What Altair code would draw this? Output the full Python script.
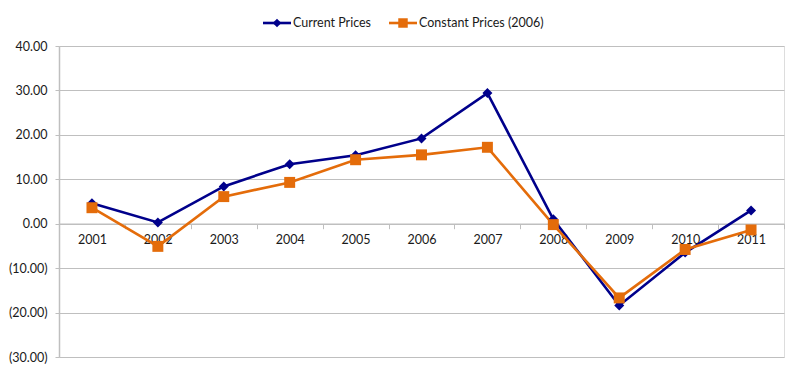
import altair as alt
import pandas as pd

years = ["2001", "2002", "2003", "2004", "2005", "2006", "2007", "2008", "2009", "2010", "2011"]
current = [4.6, 0.3, 8.4, 13.4, 15.4, 19.2, 29.4, 1.0, -18.4, -6.5, 3.0]
constant = [3.6, -5.1, 6.1, 9.3, 14.4, 15.5, 17.2, -0.2, -16.7, -5.8, -1.4]
series = ["Current Prices", "Constant Prices (2006)"]
colors = ["#00008B", "#E46C0A"]
shapes = ["diamond", "square"]
sizes = [100, 120]
y_ticks = [-30, -20, -10, 0, 10, 20, 30, 40]

FONT = "Lato"
W, H = 725, 311

rows = []
for s, vals in zip(series, [current, constant]):
    for yr, v in zip(years, vals):
        rows.append({"year": yr, "value": v, "series": s})
df = pd.DataFrame(rows)

label_expr = ("datum.value < 0 ? '(' + format(-datum.value, '.2f') + ')' "
              ": format(datum.value, '.2f')")

x_enc = alt.X("year:O", sort=years,
              scale=alt.Scale(type="band", paddingInner=0, paddingOuter=0),
              axis=alt.Axis(title=None, orient="bottom", offset=-133.3,
                            domainColor="#BFBFBF", domainWidth=1.5,
                            tickColor="#BFBFBF", tickSize=5, tickBand="extent",
                            labelAngle=0, labelPadding=5, labelFont=FONT,
                            labelFontSize=12.5, labelColor="#1a1a1a", grid=False))
y_enc = alt.Y("value:Q",
              scale=alt.Scale(domain=[-30, 40], nice=False, zero=False),
              axis=alt.Axis(title=None, values=y_ticks, labelExpr=label_expr,
                            domainColor="#BFBFBF", domainWidth=1.5,
                            tickColor="#BFBFBF", tickSize=4, labelPadding=8,
                            labelFont=FONT, labelFontSize=12.5, labelColor="#1a1a1a",
                            grid=True, gridColor="#BFBFBF", gridWidth=1.2))
color_enc = alt.Color("series:N", scale=alt.Scale(domain=series, range=colors), legend=None)

base = alt.Chart(df)
lines = base.mark_line(strokeWidth=2.6).encode(x=x_enc, y=y_enc, color=color_enc,
                                                detail="series:N")
pts = []
for s, c, sh, sz in zip(series, colors, shapes, sizes):
    pts.append(
        alt.Chart(df[df.series == s]).mark_point(shape=sh, filled=True, size=sz,
                                                 color=c, opacity=1)
        .encode(x=alt.X("year:O", sort=years), y="value:Q")
    )

# manual legend (line + marker + label), placed above the plot
legend_layers = []
leg_y = -23
leg_starts = [204, 330]
for s, c, sh, sz, x0 in zip(series, colors, shapes, sizes, leg_starts):
    ldf = pd.DataFrame({"label": [s]})
    lc = alt.Chart(ldf)
    legend_layers.append(lc.mark_rule(color=c, strokeWidth=2.6).encode(
        x=alt.value(x0), x2=alt.value(x0 + 28), y=alt.value(leg_y)))
    legend_layers.append(lc.mark_point(shape=sh, filled=True, size=sz * 0.75,
                                       color=c, opacity=1).encode(
        x=alt.value(x0 + 14), y=alt.value(leg_y)))
    legend_layers.append(lc.mark_text(align="left", baseline="middle", font=FONT,
                                      fontSize=12.5, color="#1a1a1a").encode(
        x=alt.value(x0 + 30), y=alt.value(leg_y), text="label:N"))

chart = alt.layer(lines, *pts, *legend_layers).properties(
    width=W, height=H,
    autosize=alt.AutoSizeParams(type="none"),
    padding={"left": 51, "top": 38, "right": 8, "bottom": 8},
).configure_view(stroke=None).configure(background="white")

chart.save("out.html", embed_options={"renderer": "svg", "actions": False})
